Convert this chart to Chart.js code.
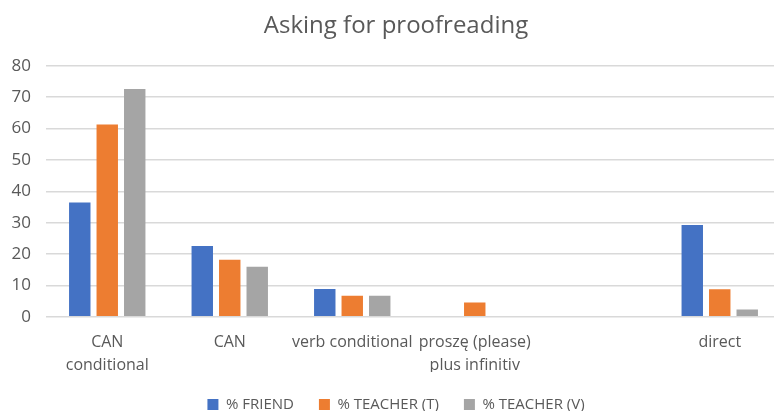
<!DOCTYPE html>
<html>
<head>
<meta charset="utf-8">
<script src="https://cdn.jsdelivr.net/npm/chart.js@4.4.0/dist/chart.umd.min.js"></script>
<style>
  html, body { margin: 0; padding: 0; background: #fff; overflow: hidden; }
  #wrap { width: 800px; height: 411px; }
</style>
</head>
<body>
<div id="wrap"><canvas id="c" width="800" height="411"></canvas></div>
<script>
const categories = [["CAN", "conditional"], "CAN", "verb conditional", ["proszę (please)", "plus infinitiv"], "", "direct"];
const friend   = [36.4, 22.6, 8.9, 0, 0, 29.3];
const teacherT = [61.3, 18.2, 6.7, 4.6, 0, 8.8];
const teacherV = [72.6, 16.0, 6.7, 0, 0, 2.3];
const seriesNames = ["% FRIEND", "% TEACHER (T)", "% TEACHER (V)"];
const yTicks = [0, 10, 20, 30, 40, 50, 60, 70, 80];

const textColor = '#595959';
const font = "'Open Sans', 'Liberation Sans', sans-serif";

new Chart(document.getElementById('c'), {
  type: 'bar',
  data: {
    labels: categories,
    datasets: [
      { label: seriesNames[0], data: friend,   backgroundColor: '#4472C4' },
      { label: seriesNames[1], data: teacherT, backgroundColor: '#ED7D31' },
      { label: seriesNames[2], data: teacherV, backgroundColor: '#A5A5A5' }
    ]
  },
  options: {
    responsive: false,
    animation: false,
    categoryPercentage: 0.673,
    barPercentage: 0.78,
    layout: { padding: { left: 11, right: 19, top: 4, bottom: -11 } },
    plugins: {
      title: {
        display: true,
        text: 'Asking for proofreading',
        color: textColor,
        font: { family: font, size: 24, weight: 'normal' },
        padding: { top: 8, bottom: 25 }
      },
      legend: {
        position: 'bottom',
        labels: {
          color: textColor,
          font: { family: font, size: 15 },
          boxWidth: 11,
          boxHeight: 11,
          padding: 25
        }
      },
      tooltip: { enabled: false }
    },
    scales: {
      x: {
        grid: { display: false, drawTicks: false, tickLength: 0 },
        border: { display: false },
        afterFit: (scale) => {
          scale.height -= 19;
          scale.paddingLeft = 0;
          scale.paddingRight = 0;
        },
        ticks: {
          color: textColor,
          font: { family: font, size: 16, lineHeight: 1.38 },
          padding: 15,
          maxRotation: 0,
          autoSkip: false
        }
      },
      y: {
        min: 0,
        max: 80,
        afterBuildTicks: (axis) => { axis.ticks = yTicks.map(v => ({ value: v })); },
        afterFit: (scale) => { scale.width = 35; },
        grid: { color: '#D9D9D9', lineWidth: 1.5, drawTicks: false, tickLength: 0 },
        border: { display: false },
        ticks: {
          color: textColor,
          font: { family: font, size: 17 },
          padding: 15
        }
      }
    }
  }
});
</script>
</body>
</html>
